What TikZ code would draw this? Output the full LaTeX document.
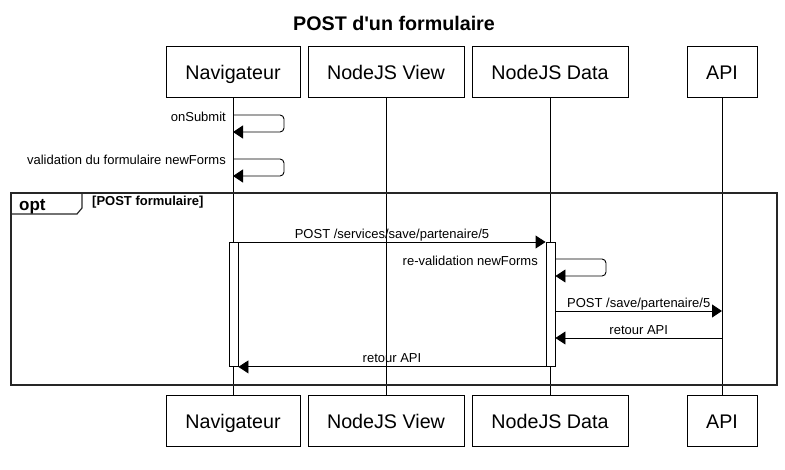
\documentclass[tikz,border=0pt]{standalone}
\usepackage{fontspec}
\setmainfont{Liberation Sans}
\usepackage{tikz}
\usetikzlibrary{arrows.meta}

\begin{document}
\begin{tikzpicture}[x=1pt,y=-1pt,
  part/.style={draw,fill=white,line width=0.9pt,minimum height=51pt,inner sep=0pt,
    text height=14pt,text depth=0pt,font=\fontsize{19.7}{22}\selectfont},
  life/.style={line width=0.9pt},
  actbar/.style={draw,fill=white,line width=0.9pt,minimum width=9pt,inner sep=0pt},
  msg/.style={-{Triangle[length=10pt,width=13pt]},line width=0.9pt},
  lbl/.style={font=\fontsize{13}{15}\selectfont,inner sep=0pt}]
  \useasboundingbox (0,0) rectangle (785,469);
  \node[font=\bfseries\fontsize{19.7}{22}\selectfont,anchor=base,inner sep=0pt] (title) at (394,30) {POST d\textquotesingle un formulaire};
  % participants, top and bottom, with their lifelines
  \foreach \n/\x/\w/\t in {nav/233/134/Navigateur, view/386/156/NodeJS View, data/550/156/NodeJS Data, api/722/70/API} {
    \node[part,minimum width=\w pt] (\n) at (\x,72) {\t};
    \node[part,minimum width=\w pt] (\n-b) at (\x,421) {\t};
    \draw[life] (\n) -- (\n-b);
  }
  % self messages of the browser
  \draw[msg,rounded corners=4pt] (nav |- 0,115) -- (284,115) -- (284,132) -- (nav |- 0,132);
  \node[lbl,anchor=base east] (onsub) at (226,121) {onSubmit};
  \draw[msg,rounded corners=4pt] (nav |- 0,159) -- (284,159) -- (284,176) -- (nav |- 0,176);
  \node[lbl,anchor=base east] (valid) at (226,164) {validation du formulaire newForms};
  % opt frame
  \draw[line width=1.6pt,black!85] (11,193) rectangle (777,385);
  \draw[line width=1.2pt,black!85] (11,214) -- (77,214) -- (82,208) -- (82,193);
  \node[font=\bfseries\fontsize{17}{19}\selectfont,anchor=base west,inner sep=0pt] (opt) at (19,210) {opt};
  \node[font=\bfseries\fontsize{13}{15}\selectfont,anchor=base west,inner sep=0pt] (guard) at (92,205) {[POST formulaire]};
  % activations
  \node[actbar,minimum height=124pt,anchor=north] (navact) at (233.5,242) {};
  \node[actbar,minimum height=124pt,anchor=north] (dataact) at (550.5,242) {};
  \draw[msg] (navact.north east) -- (dataact.north west)
    node[lbl,midway,anchor=base,yshift=4pt] {POST /services/save/partenaire/5};
  \draw[msg,rounded corners=4pt] (dataact.east |- 0,259) -- (606,259) -- (606,276) -- (dataact.east |- 0,276);
  \node[lbl,anchor=base east] (reval) at (538,265) {re-validation newForms};
  \draw[msg] (dataact.east |- 0,311) -- (api |- 0,311)
    node[lbl,midway,anchor=base,yshift=3.5pt] {POST /save/partenaire/5};
  \draw[msg] (api |- 0,338) -- (dataact.east |- 0,338)
    node[lbl,midway,anchor=base,yshift=3.5pt] {retour API};
  \draw[msg] (dataact.south west) -- (navact.south east)
    node[lbl,midway,anchor=base,yshift=4pt] {retour API};
\end{tikzpicture}
\end{document}
